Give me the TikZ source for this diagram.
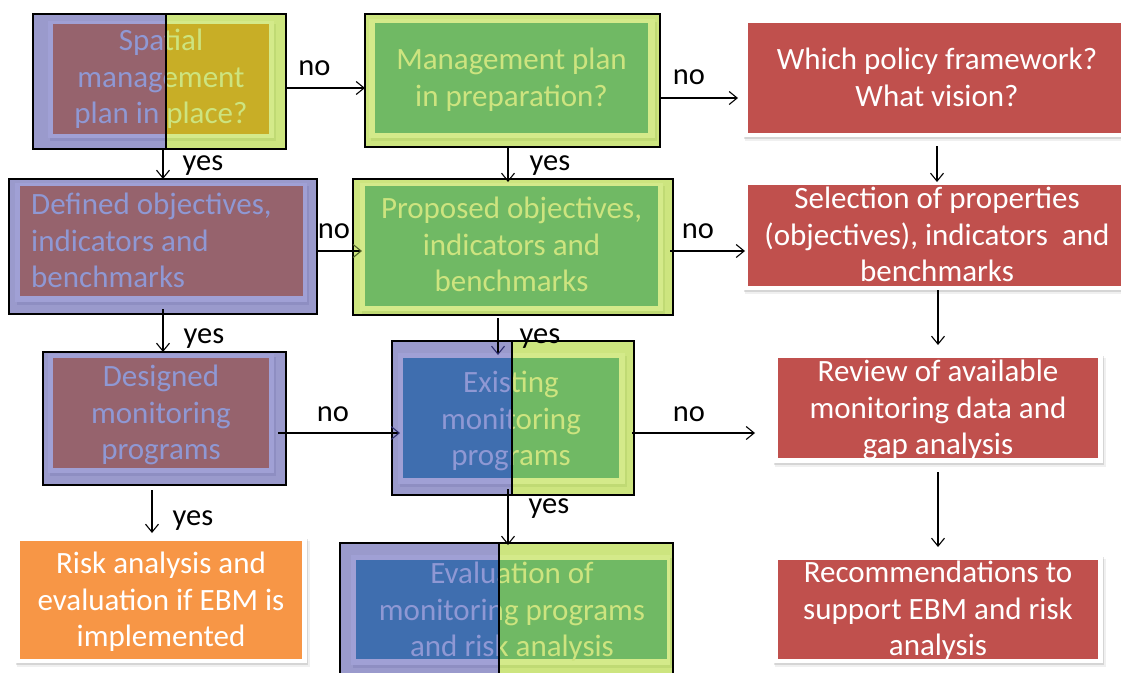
\documentclass[tikz,border=0pt]{standalone}
\usepackage{fontspec}
\setmainfont{Carlito}
\usetikzlibrary{arrows.meta,fit}

% palette
\definecolor{frameB}{HTML}{9A9ACC}
\definecolor{liteB}{HTML}{A0A0D5}
\definecolor{shadeB}{HTML}{8E8EC2}
\definecolor{frameG}{HTML}{CDE57F}
\definecolor{liteG}{HTML}{D4EA8A}
\definecolor{shadeG}{HTML}{C0DA74}
\definecolor{redB}{HTML}{96636D}
\definecolor{redG}{HTML}{C8AE26}
\definecolor{blueB}{HTML}{3F6EAF}
\definecolor{greenG}{HTML}{70B964}
\definecolor{txtB}{HTML}{8F98D4}
\definecolor{txtG}{HTML}{CDE47F}
\definecolor{boxred}{HTML}{C0504D}
\definecolor{boxorange}{HTML}{F79646}
\definecolor{tipG}{HTML}{4F6228}
\definecolor{tipB}{HTML}{2C2C6E}

\begin{document}
\begin{tikzpicture}[x=1pt,y=-1pt,
  outline/.style={draw=black, line width=1.3pt, inner sep=0pt, outer sep=0pt},
  plainframe/.style={inner sep=0pt, outer sep=0pt},
  splitline/.style={draw=black, line width=1.3pt},
  btxt/.style={font=\fontsize{31}{36.5}\selectfont, align=center, inner sep=0pt},
  lbl/.style={font=\fontsize{30.5}{36}\selectfont, anchor=base, inner sep=0pt, text=black},
  arr/.style={-{Straight Barb[length=8pt,width=13pt]}, line width=1.1pt},
  softshadow/.style={fill=black, opacity=0.11},
  softshadow2/.style={fill=black, opacity=0.06}
]
\useasboundingbox (0,0) rectangle (1121,672);
\clip (0,0) rectangle (1121,672);
\fill[white] (0,0) rectangle (1121,672);

% ---------- Spatial management plan in place? (split blue/green) ----------
\begin{scope}
  \clip (33,14) rectangle (166,149);
  \fill[frameB] (33,14) rectangle (286,149);
  \fill[shadeB] (49.5,23.5) rectangle (275.5,140.5);
  \fill[liteB] (48,21) rectangle (274,138);
  \fill[redB] (53,24) rectangle (269,134);
  \node[btxt, text=txtB] (spmL) at (161,80) {\strut Spatial\\management\\plan in place?\strut};
\end{scope}
\begin{scope}
  \clip (166,14) rectangle (286,149);
  \fill[frameG] (33,14) rectangle (286,149);
  \fill[shadeG] (49.5,23.5) rectangle (275.5,140.5);
  \fill[liteG] (48,21) rectangle (274,138);
  \fill[redG] (53,24) rectangle (269,134);
  \node[btxt, text=txtG] (spmR) at (161,80) {\strut Spatial\\management\\plan in place?\strut};
\end{scope}
\node[outline, fit={(33,14) (286,149)}] (spm) {};
\draw[splitline] (166,14) -- (166,149);

% ---------- Management plan in preparation? ----------
\fill[frameG] (365,14) rectangle (660,147);
\fill[shadeG] (370.5,21.5) rectangle (656.5,140.5);
\fill[liteG] (369,19) rectangle (655,138);
\fill[greenG] (375,23) rectangle (648,133);
\node[btxt, text=txtG] (mppT) at (511.5,80.8) {\strut Management plan\\in preparation?\strut};
\node[outline, fit={(365,14) (660,147)}] (mpp) {};

% ---------- Which policy framework? ----------
\fill[softshadow2] (745,24) rectangle (1130,141);
\fill[softshadow] (744,22) rectangle (1130,139);
\node[plainframe, fill=white, fit={(743,20) (1130,137)}] (pol) {};
\fill[boxred] (748,23) rectangle (1130,133);
\node[btxt, text=white] (polT) at (937,80.8) {\strut Which policy framework?\\What vision?\strut};

% ---------- Defined objectives ----------
\fill[frameB] (9,179) rectangle (317,314);
\fill[shadeB] (16.5,185.5) rectangle (308.5,304.5);
\fill[liteB] (15,183) rectangle (307,302);
\fill[redB] (20,186) rectangle (303,296);
\node[btxt, align=left, anchor=west, text=txtB] (defT) at (31,244) {\strut Defined objectives,\\indicators and\\benchmarks\strut};
\node[outline, fit={(9,179) (317,314)}] (def) {};

% ---------- Proposed objectives ----------
\fill[frameG] (353,179) rectangle (673,315);
\fill[shadeG] (361.5,185.5) rectangle (664.5,314);
\fill[liteG] (360,183) rectangle (663,311);
\fill[greenG] (365,186) rectangle (658,306);
\node[btxt, text=txtG] (proT) at (511.5,248) {\strut Proposed objectives,\\indicators and\\benchmarks\strut};
\node[outline, fit={(353,179) (673,315)}] (pro) {};

% ---------- Selection of properties ----------
\fill[softshadow2] (745,186) rectangle (1130,294);
\fill[softshadow] (744,184) rectangle (1130,292);
\node[plainframe, fill=white, fit={(743,182) (1130,290)}] (sel) {};
\fill[boxred] (748,185) rectangle (1130,286);
\node[btxt, text=white] (selT) at (937,238) {\strut Selection of properties\\(objectives), indicators~ and\\benchmarks\strut};

% ---------- Designed monitoring programs ----------
\fill[frameB] (43,352) rectangle (286,485);
\fill[shadeB] (49.5,356.5) rectangle (275.5,475.5);
\fill[liteB] (48,354) rectangle (274,473);
\fill[redB] (53,358) rectangle (269,468);
\node[btxt, text=txtB] (dmpT) at (161,416) {\strut Designed\\monitoring\\programs\strut};
\node[outline, fit={(43,352) (286,485)}] (dmp) {};

% ---------- Existing monitoring programs (split) ----------
\begin{scope}
  \clip (392,341) rectangle (512,495);
  \fill[frameB] (392,341) rectangle (634,495);
  \fill[shadeB] (399.5,355.5) rectangle (626.5,486.5);
  \fill[liteB] (398,353) rectangle (625,484);
  \fill[blueB] (403,358) rectangle (619,478);
  \node[btxt, text=txtB] (empL) at (511,422) {\strut Existing\\monitoring\\programs\strut};
\end{scope}
\begin{scope}
  \clip (512,341) rectangle (634,495);
  \fill[frameG] (392,341) rectangle (634,495);
  \fill[shadeG] (399.5,355.5) rectangle (626.5,486.5);
  \fill[liteG] (398,353) rectangle (625,484);
  \fill[greenG] (403,358) rectangle (619,478);
  \node[btxt, text=txtG] (empR) at (511,422) {\strut Existing\\monitoring\\programs\strut};
\end{scope}
\node[outline, fit={(392,341) (634,495)}] (emp) {};
\draw[splitline] (512,341) -- (512,495);

% ---------- Review of available monitoring data ----------
\fill[softshadow2] (775,358) rectangle (1106,467);
\fill[softshadow] (774,356) rectangle (1104,465);
\node[plainframe, fill=white, fit={(773,354) (1103,463)}] (rev) {};
\fill[boxred] (778,358) rectangle (1098,458);
\node[btxt, text=white] (revT) at (938,411) {\strut Review of available\\monitoring data and\\gap analysis\strut};

% ---------- Risk analysis and evaluation ----------
\fill[softshadow2] (17,541) rectangle (310,667);
\fill[softshadow] (16,539) rectangle (308,665);
\node[plainframe, fill=white, fit={(15,537) (307,663)}] (rsk) {};
\fill[boxorange] (20,541) rectangle (302,659);
\node[btxt, text=white] (rskT) at (161,603) {\strut Risk analysis and\\evaluation if EBM is\\implemented\strut};

% ---------- Evaluation of monitoring programs (split) ----------
\begin{scope}
  \clip (340,543) rectangle (499,700);
  \fill[frameB] (340,543) rectangle (673,700);
  \fill[shadeB] (352.5,557.5) rectangle (671.5,667.5);
  \fill[liteB] (351,555) rectangle (670,665);
  \fill[blueB] (356,560) rectangle (667,659);
  \node[btxt, text=txtB] (evaL) at (512,613) {\strut Evaluation of\\monitoring programs\\and risk analysis\strut};
\end{scope}
\begin{scope}
  \clip (499,543) rectangle (673,700);
  \fill[frameG] (340,543) rectangle (673,700);
  \fill[shadeG] (352.5,557.5) rectangle (671.5,667.5);
  \fill[liteG] (351,555) rectangle (670,665);
  \fill[greenG] (356,560) rectangle (667,659);
  \node[btxt, text=txtG] (evaR) at (512,613) {\strut Evaluation of\\monitoring programs\\and risk analysis\strut};
\end{scope}
\node[outline, fit={(340,543) (673,700)}] (eva) {};
\draw[splitline] (499,543) -- (499,700);

% ---------- Recommendations ----------
\fill[softshadow2] (775,559) rectangle (1106,667);
\fill[softshadow] (774,557) rectangle (1104,665);
\node[plainframe, fill=white, fit={(773,555) (1103,663)}] (rec) {};
\fill[boxred] (778,560) rectangle (1098,659);
\node[btxt, text=white] (recT) at (938,612) {\strut Recommendations to\\support EBM and risk\\analysis\strut};

% ---------- connectors ----------
\draw[arr] ([yshift=-6.5pt]spm.east) -- ([yshift=-7.5pt]mpp.west);
\draw[arr, shorten >=5pt] ([yshift=-17.5pt]mpp.east) -- ([yshift=-19.5pt]pol.west);
\draw[arr] ([xshift=3.5pt]spm.south) -- (def.north);
\draw[arr, shorten >=-3pt] ([xshift=-4.5pt]mpp.south) -- ([xshift=-5pt]pro.north);
\draw[-{Straight Barb[length=8pt,width=13pt,color=tipG]}, line width=1.1pt, shorten >=-9pt]
  ([yshift=-4.5pt]def.east) -- ([yshift=-4pt]pro.west);
\draw[arr, shorten <=-3pt, shorten >=-2pt] ([yshift=-4pt]pro.east) -- ([yshift=-15pt]sel.west);
\draw[arr, shorten <=9pt] ([xshift=0.5pt]pol.south) -- ([xshift=0.5pt]sel.north);
\draw[arr, shorten >=9pt] (rev.north |- sel.south) -- (rev.north);
\draw[arr, shorten <=9pt, shorten >=8pt] (rev.south) -- (rec.north);
\draw[arr, shorten <=-5pt] (def.south) -- (def.south |- dmp.north);
\draw[-{Straight Barb[length=8pt,width=13pt,color=tipB]}, line width=1.1pt, shorten <=3pt, shorten >=-14pt]
  ([xshift=-15pt]pro.south) -- ([xshift=-15pt]emp.north);
\draw[-{Straight Barb[length=8pt,width=13pt,color=tipB]}, line width=1.1pt, shorten <=-8pt, shorten >=-8pt]
  ([yshift=-14.5pt]dmp.east) -- ([yshift=-15pt]emp.west);
\draw[arr, shorten <=-2pt, shorten >=18pt] ([yshift=-15pt]emp.east) -- ([yshift=-24.5pt]rev.west);
\draw[arr, shorten <=5pt, shorten >=4pt] ([xshift=-12.5pt]dmp.south) -- ([xshift=-9pt]rsk.north);
\draw[arr, shorten <=-6pt, shorten >=-2pt] ([xshift=-5pt]emp.south) -- ([xshift=1.5pt]eva.north);

% ---------- yes / no labels ----------
\node[lbl] (no1) at (314.5,75) {no};
\node[lbl] (no2) at (689,84) {no};
\node[lbl] (yes1) at (203,170) {yes};
\node[lbl] (yes2) at (550,170) {yes};
\node[lbl] (no3) at (334,238) {no};
\node[lbl] (no4) at (698,238) {no};
\node[lbl] (yes3) at (204,343) {yes};
\node[lbl] (yes4) at (540,343) {yes};
\node[lbl] (no5) at (333,421) {no};
\node[lbl] (no6) at (689,421) {no};
\node[lbl] (yes5) at (193,525) {yes};
\node[lbl] (yes6) at (549,513) {yes};
\end{tikzpicture}
\end{document}
